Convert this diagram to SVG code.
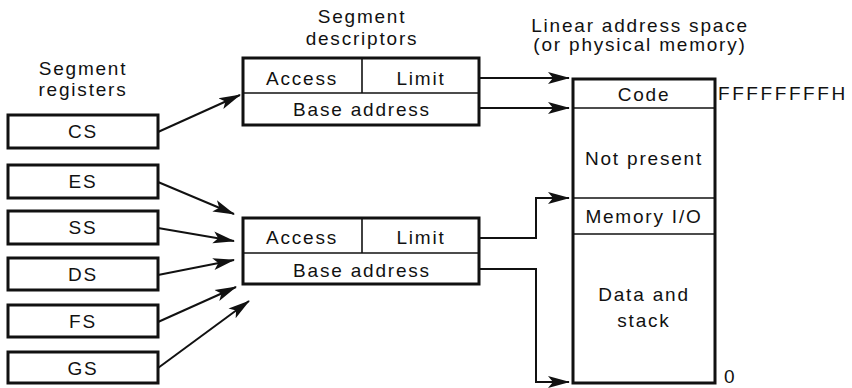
<svg xmlns="http://www.w3.org/2000/svg" width="852" height="388" viewBox="0 0 852 388">
<style>
text{font-family:"Liberation Sans",Arial,sans-serif;font-size:19px;letter-spacing:1.8px;fill:#111;text-anchor:middle}
.box{fill:#fff;stroke:#111;stroke-width:3}
.div{stroke:#111;stroke-width:1.6;fill:none}
.con{stroke:#111;stroke-width:2;fill:none;marker-end:url(#ah)}
.st{text-anchor:start}
</style>
<defs>
<marker id="ah" viewBox="0 0 22 14" refX="21" refY="7" markerWidth="22" markerHeight="14" markerUnits="userSpaceOnUse" orient="auto">
<path d="M0,1 L22,7 L0,13 L5,7 Z" fill="#111"/>
</marker>
</defs>
<rect width="852" height="388" fill="#fff"/>
<g id="titles">
<text x="83" y="75">Segment</text>
<text x="83" y="96">registers</text>
<text x="362" y="23">Segment</text>
<text x="362" y="45">descriptors</text>
<text x="640" y="32">Linear address space</text>
<text x="640" y="51">(or physical memory)</text>
</g>
<g id="reg-CS"><rect class="box" x="8" y="115" width="150" height="33"/><text x="83" y="138">CS</text></g>
<g id="reg-ES"><rect class="box" x="8" y="165" width="150" height="33"/><text x="83" y="188">ES</text></g>
<g id="reg-SS"><rect class="box" x="8" y="211" width="150" height="33"/><text x="83" y="234">SS</text></g>
<g id="reg-DS"><rect class="box" x="8" y="258" width="150" height="32"/><text x="83" y="281">DS</text></g>
<g id="reg-FS"><rect class="box" x="8" y="305" width="150" height="32"/><text x="83" y="328">FS</text></g>
<g id="reg-GS"><rect class="box" x="8" y="352" width="150" height="31"/><text x="83" y="375">GS</text></g>
<g id="desc-top">
<rect class="box" x="243" y="58" width="236" height="67"/>
<line class="div" x1="243" y1="93" x2="479" y2="93"/>
<line class="div" x1="362" y1="58" x2="362" y2="93"/>
<text x="302" y="85">Access</text>
<text x="421" y="85">Limit</text>
<text x="362" y="116">Base address</text>
</g>
<g id="desc-bottom">
<rect class="box" x="243" y="218" width="236" height="66"/>
<line class="div" x1="243" y1="253" x2="479" y2="253"/>
<line class="div" x1="362" y1="218" x2="362" y2="253"/>
<text x="302" y="244">Access</text>
<text x="421" y="244">Limit</text>
<text x="362" y="277">Base address</text>
</g>
<g id="memory">
<rect class="box" x="573" y="79" width="142" height="304"/>
<line class="div" x1="573" y1="108" x2="715" y2="108"/>
<line class="div" x1="573" y1="198" x2="715" y2="198"/>
<line class="div" x1="573" y1="234" x2="715" y2="234"/>
<text x="644" y="101">Code</text>
<text x="644" y="165">Not present</text>
<text x="644" y="223">Memory I/O</text>
<text x="644" y="301">Data and</text>
<text x="644" y="327">stack</text>
<text class="st" x="718" y="100" textLength="129" lengthAdjust="spacing">FFFFFFFFH</text>
<text class="st" x="724" y="383">0</text>
</g>
<g id="connectors">
<path class="con" d="M158,132 L240,95"/>
<path class="con" d="M158,182 L234,214"/>
<path class="con" d="M158,228 L234,241"/>
<path class="con" d="M158,275 L234,260"/>
<path class="con" d="M158,322 L236,287"/>
<path class="con" d="M158,368 L249,301"/>
<path class="con" d="M479,78 L569,78"/>
<path class="con" d="M479,108 L569,108"/>
<path class="con" d="M479,238 L536,238 L536,198 L569,198"/>
<path class="con" d="M479,269 L536,269 L536,382 L569,382"/>
</g>
</svg>
